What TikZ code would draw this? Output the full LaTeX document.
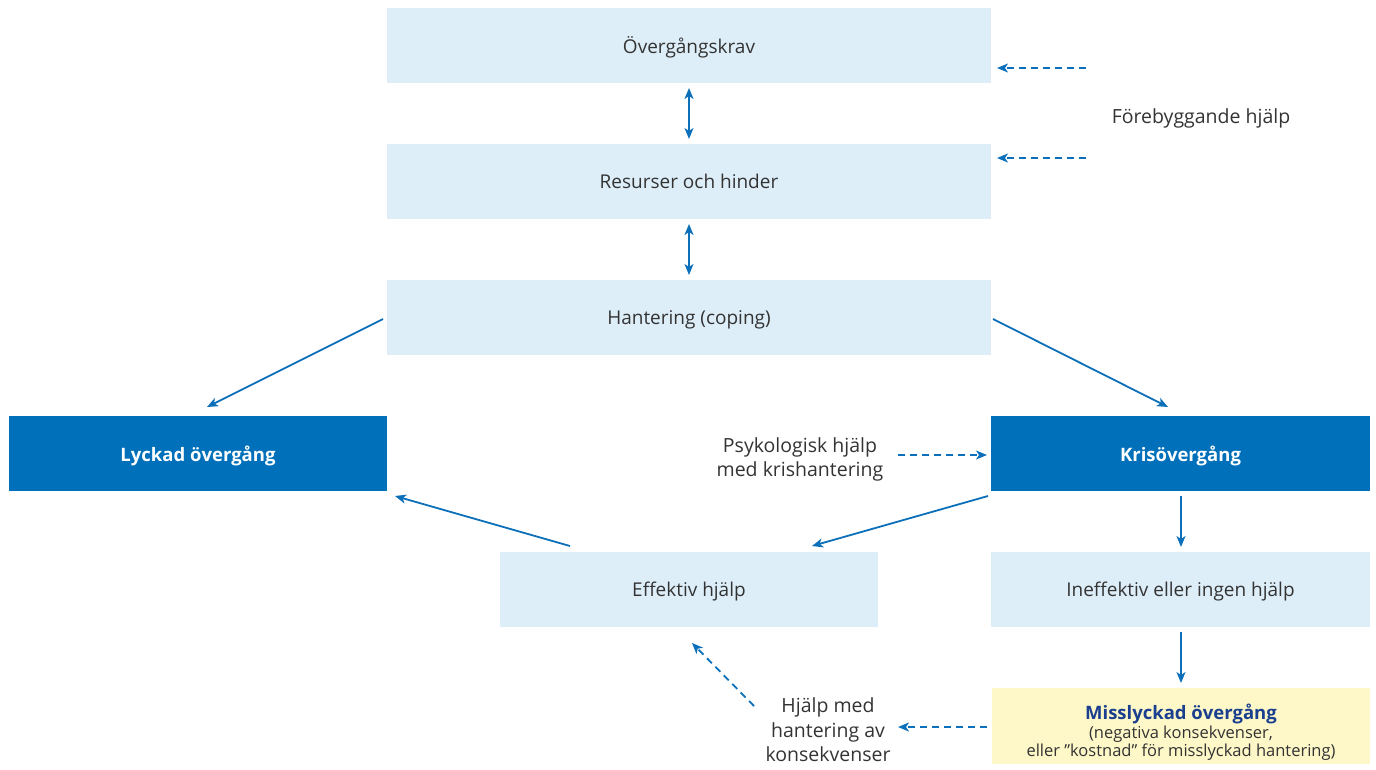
\documentclass[tikz,border=0pt]{standalone}
\usepackage{fontspec}
\setmainfont{Open Sans}
\usetikzlibrary{arrows.meta}
\definecolor{lightbox}{HTML}{DDEEF9}
\definecolor{darkbox}{HTML}{0070BA}
\definecolor{yelbox}{HTML}{FEF8C8}
\definecolor{arrowc}{HTML}{0B70B9}
\definecolor{txt}{HTML}{333333}
\definecolor{navy}{HTML}{1B3F8F}
\begin{document}
\begin{tikzpicture}[x=1pt,y=-1pt,
  box/.style={minimum height=75pt,inner sep=0pt,font=\fontsize{19}{23}\selectfont,text=txt,text depth=0pt},
  lbox/.style={box,fill=lightbox},
  dbox/.style={box,fill=darkbox,text=white,font=\fontsize{18.5}{22}\selectfont\bfseries},
  ybox/.style={fill=yelbox,inner sep=0pt},
  ytxt/.style={align=center,inner sep=0pt,text=txt,font=\fontsize{16.5}{17.5}\selectfont},
  lbl/.style={font=\fontsize{19.5}{24.5}\selectfont,text=txt,align=center},
  conn/.style={draw=arrowc,line width=1.8pt,-{Stealth[length=11pt,width=9pt,inset=3pt]}},
  dconn/.style={conn,dash pattern=on 7pt off 5pt},
  both/.style={conn,{Stealth[length=11pt,width=9pt,inset=3pt]}-{Stealth[length=11pt,width=9pt,inset=3pt]}}
]
\useasboundingbox (0,0) rectangle (1376,769);
\node[lbox,minimum width=604pt] (krav) at (689,45.5) {Övergångskrav};
\node[lbox,minimum width=604pt] (res) at (689,181.5) {Resurser och hinder};
\node[lbox,minimum width=604pt] (hant) at (689,317.5) {Hantering (coping)};
\node[dbox,minimum width=378pt] (lyck) at (198,453.5) {Lyckad övergång};
\node[dbox,minimum width=379pt] (kris) at (1180.5,453.5) {Krisövergång};
\node[lbox,minimum width=378pt] (eff) at (689,589.5) {Effektiv hjälp};
\node[lbox,minimum width=379pt] (ineff) at (1180.5,589.5) {Ineffektiv eller ingen hjälp};
\node[ybox,minimum width=378pt,minimum height=76pt] (miss) at (1181,726) {};
\node[ytxt] (misstxt) at (1181,732)
  {\textcolor{navy}{\fontsize{18.5}{21}\selectfont\bfseries Misslyckad övergång}\\[2pt]
   (negativa konsekvenser,\\eller ”kostnad” för misslyckad hantering)};

\node[lbl] (fore) at (1201,118) {Förebyggande hjälp};
\node[lbl] (psyk) at (800,459.5) {Psykologisk hjälp\\med krishantering};
\node[lbl] (kons) at (828,730) {Hjälp med\\hantering av\\konsekvenser};

\coordinate (f1s) at (1086,68); \coordinate (f1e) at (997,68);
\coordinate (f2s) at (1086,158); \coordinate (f2e) at (997,158);
\coordinate (ps) at (898,455); \coordinate (pe) at (987,455);
\coordinate (ks) at (987,727); \coordinate (ke) at (898,727);
\coordinate (hs) at (754,706); \coordinate (he) at (692,643);

\draw[both] (689,88) -- (689,139);
\draw[both] (689,224) -- (689,275);
\draw[conn] (383,319) -- (207,407);
\draw[conn] (993,319) -- (1168,407);
\draw[conn] (988,496) -- (812,546);
\draw[conn] (570,546) -- (395,496);
\draw[conn] (1181,496) -- (1181,547);
\draw[conn] (1181,632) -- (1181,683);
\draw[dconn] (f1s) -- (f1e);
\draw[dconn] (f2s) -- (f2e);
\draw[dconn] (ps) -- (pe);
\draw[dconn] (ks) -- (ke);
\draw[dconn] (hs) -- (he);
\end{tikzpicture}
\end{document}
